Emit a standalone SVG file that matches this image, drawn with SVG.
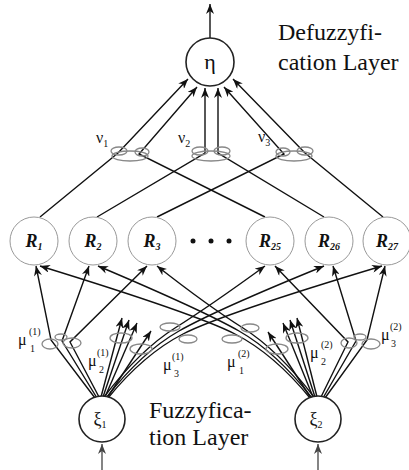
<svg xmlns="http://www.w3.org/2000/svg" width="409" height="470" viewBox="0 0 409 470">
<defs>
<marker id="ah" markerUnits="userSpaceOnUse" markerWidth="11" markerHeight="8" refX="10" refY="4" orient="auto"><path d="M0,0 L10,4 L0,8 L3,4 z" fill="#111"/></marker>
<marker id="ahg" markerUnits="userSpaceOnUse" markerWidth="11" markerHeight="8" refX="10" refY="4" orient="auto"><path d="M0,0 L10,4 L0,8 L3,4 z" fill="#444"/></marker>
<style>
.ln{fill:none;stroke:#111;stroke-width:1.4;marker-end:url(#ah)}
.lg{fill:none;stroke:#666;stroke-width:1.6;marker-end:url(#ahg)}
.el{fill:none;stroke:#888;stroke-width:1.3}
.rn{fill:#fff;stroke:#999;stroke-width:1}
.bn{fill:#fff;stroke:#222;stroke-width:1.6}
text{font-family:"Liberation Serif","Times New Roman",serif;fill:#111}
.big{font-size:24px}
.rl{font-size:18px;font-weight:bold;font-style:italic;text-anchor:middle}
.sub{font-size:10px}
.gl{font-size:16px}
.dot{fill:#111}
</style>
</defs>
<rect width="409" height="470" fill="#fff"/>
<g id="connectors">
  <path class="ln" d="M210,38 L210,4"/>
  <path class="ln" d="M40,217 L118,153 L188,79"/>
  <path class="ln" d="M265,217 L139,154 L197,87"/>
  <path class="ln" d="M97,217 L205,153 L205,88"/>
  <path class="ln" d="M324,217 L218,153 L218,88"/>
  <path class="ln" d="M157,217 L284,154 L224,87"/>
  <path class="ln" d="M383,217 L305,153 L233,79"/>
  <path class="ln" d="M95,398 L51,340 L36,266"/>
  <path class="ln" d="M97,398 L62,341 L89,266"/>
  <path class="ln" d="M99,397 L70,342 L147,266"/>
  <path class="ln" d="M325,398 L367,340 L385,266"/>
  <path class="ln" d="M323,398 L356,341 L333,266"/>
  <path class="ln" d="M321,397 L348,342 L275,266"/>
  <path class="ln" d="M101,397 L122,318"/>
  <path class="ln" d="M103,397 L129,320"/>
  <path class="ln" d="M105,397 L137,323"/>
  <path class="ln" d="M107,398 L151,331"/>
  <path class="ln" d="M317,397 L297,318"/>
  <path class="ln" d="M315,397 L290,320"/>
  <path class="ln" d="M313,397 L283,323"/>
  <path class="ln" d="M311,398 L268,332"/>
  <path class="ln" d="M104,397 Q140,350 175,328 T265,266"/>
  <path class="ln" d="M106,398 Q142,352 179,331 T324,266"/>
  <path class="ln" d="M108,398 Q144,354 183,334 T382,266"/>
  <path class="ln" d="M314,397 Q278,350 243,328 T157,266"/>
  <path class="ln" d="M312,398 Q276,352 239,331 T98,266"/>
  <path class="ln" d="M310,398 Q274,354 235,334 T40,266"/>
  <path class="lg" d="M102,470 L102,444"/>
  <path class="lg" d="M318,470 L318,444"/>
</g>
<g id="eta"><circle class="bn" cx="210" cy="62" r="24"/><text x="210" y="69" text-anchor="middle" font-size="22">η</text></g>
<g id="R1"><circle class="rn" cx="34" cy="241" r="24"/><text class="rl" x="34" y="247">R<tspan class="sub" dy="3">1</tspan></text></g>
<g id="R2"><circle class="rn" cx="93" cy="241" r="24"/><text class="rl" x="93" y="247">R<tspan class="sub" dy="3">2</tspan></text></g>
<g id="R3"><circle class="rn" cx="152" cy="241" r="24"/><text class="rl" x="152" y="247">R<tspan class="sub" dy="3">3</tspan></text></g>
<g id="dots"><circle class="dot" cx="193" cy="241" r="2.5"/><circle class="dot" cx="211" cy="241" r="2.5"/><circle class="dot" cx="229" cy="241" r="2.5"/></g>
<g id="R25"><circle class="rn" cx="270" cy="241" r="24"/><text class="rl" x="270" y="247">R<tspan class="sub" dy="3">25</tspan></text></g>
<g id="R26"><circle class="rn" cx="329" cy="241" r="24"/><text class="rl" x="329" y="247">R<tspan class="sub" dy="3">26</tspan></text></g>
<g id="R27"><circle class="rn" cx="387" cy="241" r="24"/><text class="rl" x="387" y="247">R<tspan class="sub" dy="3">27</tspan></text></g>
<g id="nu1"><ellipse class="el" cx="130" cy="156" rx="18" ry="5"/><ellipse class="el" cx="119" cy="151" rx="8" ry="4"/><ellipse class="el" cx="142" cy="152" rx="7" ry="4"/><text class="gl" x="96" y="143">ν<tspan class="sub" dy="4">1</tspan></text></g>
<g id="nu2"><ellipse class="el" cx="211" cy="156" rx="19" ry="5"/><ellipse class="el" cx="200" cy="151" rx="8" ry="4"/><ellipse class="el" cx="222" cy="151" rx="8" ry="4"/><text class="gl" x="178" y="143">ν<tspan class="sub" dy="4">2</tspan></text></g>
<g id="nu3"><ellipse class="el" cx="294" cy="156" rx="18" ry="5"/><ellipse class="el" cx="283" cy="152" rx="7" ry="4"/><ellipse class="el" cx="305" cy="151" rx="8" ry="4"/><text class="gl" x="258" y="142">ν<tspan class="sub" dy="4">3</tspan></text></g>
<g id="mu11"><ellipse class="el" cx="50" cy="344" rx="8" ry="5"/><ellipse class="el" cx="61" cy="337" rx="6" ry="3"/><ellipse class="el" cx="72" cy="343" rx="9" ry="5"/><text class="gl" x="18" y="345">μ</text><text class="sub" x="29" y="335">(1)</text><text class="sub" x="30" y="352">1</text></g>
<g id="mu21"><ellipse class="el" cx="121" cy="338" rx="11" ry="5"/><ellipse class="el" cx="141" cy="349" rx="11" ry="5"/><text class="gl" x="88" y="366">μ</text><text class="sub" x="97" y="356">(1)</text><text class="sub" x="99" y="373">2</text></g>
<g id="mu31"><ellipse class="el" cx="170" cy="327" rx="10" ry="4"/><ellipse class="el" cx="188" cy="339" rx="9" ry="4"/><text class="gl" x="163" y="370">μ</text><text class="sub" x="172" y="360">(1)</text><text class="sub" x="174" y="377">3</text></g>
<g id="mu12"><ellipse class="el" cx="232" cy="339" rx="10" ry="4"/><ellipse class="el" cx="250" cy="328" rx="9" ry="4"/><text class="gl" x="227" y="367">μ</text><text class="sub" x="238" y="357">(2)</text><text class="sub" x="239" y="374">1</text></g>
<g id="mu22"><ellipse class="el" cx="297" cy="338" rx="11" ry="5"/><ellipse class="el" cx="277" cy="349" rx="11" ry="5"/><text class="gl" x="310" y="358">μ</text><text class="sub" x="321" y="348">(2)</text><text class="sub" x="321" y="365">2</text></g>
<g id="mu32"><ellipse class="el" cx="349" cy="343" rx="8" ry="5"/><ellipse class="el" cx="360" cy="337" rx="6" ry="3"/><ellipse class="el" cx="371" cy="344" rx="9" ry="5"/><text class="gl" x="381" y="340">μ</text><text class="sub" x="390" y="330">(2)</text><text class="sub" x="391" y="347">3</text></g>
<g id="xi1"><circle class="bn" cx="102" cy="419" r="23"/><text x="100" y="425" font-size="18" text-anchor="middle">ξ<tspan font-size="10" dy="3">1</tspan></text></g>
<g id="xi2"><circle class="bn" cx="318" cy="419" r="23"/><text x="316" y="425" font-size="18" text-anchor="middle">ξ<tspan font-size="10" dy="3">2</tspan></text></g>
<g id="labels">
  <text class="big" x="278" y="40">Defuzzyfi-</text>
  <text class="big" x="278" y="70">cation Layer</text>
  <text class="big" x="149" y="418">Fuzzyfica-</text>
  <text class="big" x="149" y="445">tion Layer</text>
</g>
</svg>
